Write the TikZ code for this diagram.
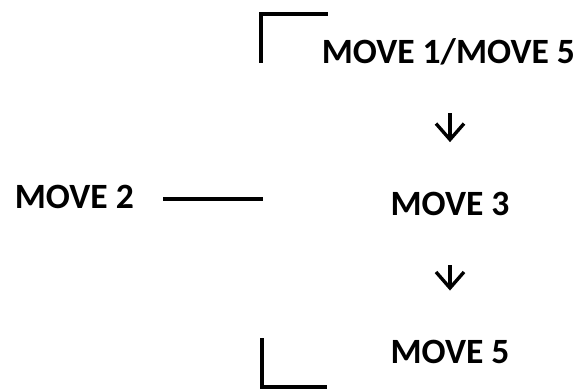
\documentclass[tikz,border=0pt]{standalone}
\usepackage{fontspec}
\setmainfont{Carlito}
\usetikzlibrary{arrows.meta}
\tikzset{
	move/.style={font=\fontsize{25.3}{30}\selectfont\bfseries, inner sep=0pt, outer sep=0pt,
	             text height=16.3pt, text depth=0pt},
	flow/.style={-{Straight Barb[length=4mm, width=7mm, line width=2.4pt]}, line width=2.4pt,
	             shorten <=1.25cm, shorten >=1.25cm},
	bar/.style={line width=2.6pt}
}

\begin{document}
\begin{tikzpicture}
\useasboundingbox (0,0) rectangle (14.5,9.75);

\node[move](m15) at (11.21, 8.45) {MOVE 1/MOVE 5};
\node[move](m3) at (11.25, 4.66) {MOVE 3};
\node[move](m5) at (11.25, 0.95) {MOVE 5};
\node[move](m2) at (1.86, 4.825) {MOVE 2};

\coordinate(topa) at (6.525, 8.175);
\coordinate(topb) at (6.525, 9.4);
\coordinate(topc) at (8.2, 9.4);
\coordinate(bota) at (6.55, 1.3);
\coordinate(botb) at (6.55, 0.075);
\coordinate(botc) at (8.175, 0.075);
\coordinate(side) at (6.575, 4.775);

\draw[flow] (m15.south -| m5.north) -- (m3.north);
\draw[flow] (m3.south) -- (m5.north);

\draw[bar] (m2.east |- side) ++(0.74,0) -- (side);
\draw[bar] (topa) -- (topb) -- (topc);
\draw[bar] (bota) -- (botb) -- (botc);

\end{tikzpicture}
\end{document}
